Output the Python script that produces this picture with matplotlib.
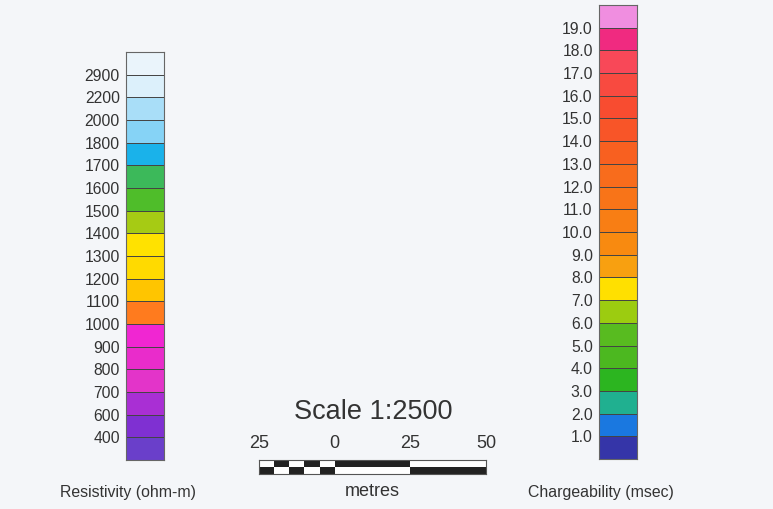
import numpy as np
import matplotlib
matplotlib.use("Agg")
import matplotlib.pyplot as plt

plt.rcParams['font.family'] = ['Liberation Sans', 'DejaVu Sans']

# -----------------------------
# Data (top to bottom)
# -----------------------------
res_labels = ["2900", "2200", "2000", "1800", "1700", "1600", "1500", "1400", "1300",
              "1200", "1100", "1000", "900", "800", "700", "600", "400"]
res_colors = ["#eaf4fb", "#dcf0fb", "#a9def8", "#86d3f6", "#1ab2ea", "#3cb95a",
              "#4fbd2a", "#a6cb14", "#ffe200", "#ffda00", "#ffc500", "#ff7b1e",
              "#f026d2", "#e92ccb", "#e334c9", "#a92fd4", "#7f30d2", "#6a3fca"]

chg_labels = ["19.0", "18.0", "17.0", "16.0", "15.0", "14.0", "13.0", "12.0", "11.0",
              "10.0", "9.0", "8.0", "7.0", "6.0", "5.0", "4.0", "3.0", "2.0", "1.0"]
chg_colors = ["#f08ee0", "#f02a80", "#f84858", "#f84a40", "#f84c30", "#f85528",
              "#f86020", "#f86c1c", "#f87418", "#f87e14", "#f88a10", "#f8a010",
              "#ffe000", "#9ccc10", "#58bb20", "#4cb820", "#2cb520", "#20b090",
              "#1a78e0", "#3535a8"]

# scale bar (metres)
scale_ticks = [-25, 0, 25, 50]
scale_tick_labels = ["25", "0", "25", "50"]
check_starts = [-25, -20, -15, -10, -5]
check_width = 5
solid_starts = [0, 25]
solid_width = 25

bg = "#f4f6f9"
txt = "#333333"
edge = "#444444"
dark = "#222222"

fig = plt.figure(figsize=(7.73, 5.09), dpi=100)
fig.patch.set_facecolor(bg)


def legend_bar(rect, colors, labels):
    ax = fig.add_axes(rect)
    cols = colors[::-1]
    n = len(cols)
    ax.bar(np.zeros(n), np.ones(n), bottom=np.arange(n), width=1,
           color=cols, edgecolor=edge, linewidth=0.7)
    ax.set_xlim(-0.5, 0.5)
    ax.set_ylim(0, n)
    ax.set_xticks([])
    ax.set_yticks(np.arange(1, n))
    ax.set_yticklabels(labels[::-1], fontsize=11.3, color=txt)
    ax.tick_params(axis='y', length=0, pad=4.5)
    for s in ax.spines.values():
        s.set_color("#666666")
        s.set_linewidth(0.8)
    return ax


legend_bar([126/773, 1 - 460/509, 38/773, 408/509], res_colors, res_labels)
legend_bar([599/773, 1 - 459/509, 38/773, 454/509], chg_colors, chg_labels)

# scale bar
sax = fig.add_axes([259/773, 1 - 473.5/509, 227/773, 14/509])
for i, x0 in enumerate(check_starts):
    top = "white" if i % 2 == 0 else dark
    bot = dark if i % 2 == 0 else "white"
    sax.bar(x0, 1, bottom=1, width=check_width, align='edge', color=top, linewidth=0)
    sax.bar(x0, 1, bottom=0, width=check_width, align='edge', color=bot, linewidth=0)
for i, x0 in enumerate(solid_starts):
    top = dark if i % 2 == 0 else "white"
    bot = "white" if i % 2 == 0 else dark
    sax.bar(x0, 1, bottom=1, width=solid_width, align='edge', color=top, linewidth=0)
    sax.bar(x0, 1, bottom=0, width=solid_width, align='edge', color=bot, linewidth=0)
sax.set_xlim(-25, 50)
sax.set_ylim(0, 2)
sax.set_yticks([])
sax.xaxis.tick_top()
sax.set_xticks(scale_ticks)
sax.set_xticklabels(scale_tick_labels, fontsize=13, color=txt)
sax.tick_params(axis='x', length=0, pad=5.5)
for s in sax.spines.values():
    s.set_color("#555555")
    s.set_linewidth(0.8)

fig.text(373/773, 1 - 412/509, "Scale 1:2500", fontsize=19.5, color=txt,
         ha='center', va='center')
fig.text(372/773, 1 - 492/509, "metres", fontsize=13, color=txt,
         ha='center', va='center')
fig.text(128/773, 1 - 492/509, "Resistivity (ohm-m)", fontsize=11.4, color=txt,
         ha='center', va='center')
fig.text(601/773, 1 - 492/509, "Chargeability (msec)", fontsize=11.4, color=txt,
         ha='center', va='center')

fig.savefig("out.png", dpi=100, facecolor=bg)
